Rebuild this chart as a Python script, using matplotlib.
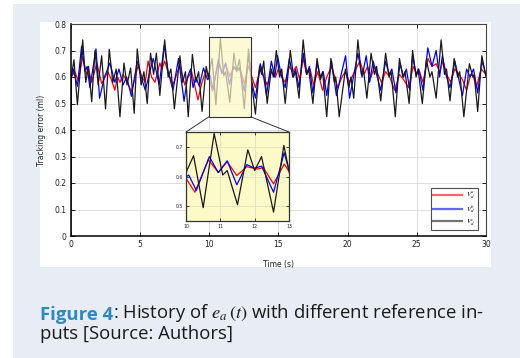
import matplotlib
matplotlib.use('Agg')
import matplotlib.pyplot as plt
from matplotlib.patches import Rectangle, ConnectionPatch
from matplotlib.text import Annotation

# tracking error e_a(t) for the three reference inputs
t_a = [0, 0.06, 0.3, 0.57, 0.88, 1.15, 1.3, 1.53, 1.9, 2.25, 2.7, 2.95, 3.2, 3.4, 3.57, 3.8, 4.1, 4.4,
       4.9, 5.15, 5.4, 5.6, 5.85, 6.1, 6.45, 6.6, 6.8, 7.1, 7.4, 7.9, 8.25, 8.5, 8.75, 9.2, 9.5, 9.8,
       10.0, 10.26, 10.65, 10.94, 11.2, 11.48, 11.77, 12.08, 12.25, 12.55, 12.86, 13.1, 13.35, 13.7,
       13.95, 14.2, 14.5, 14.8, 15.0, 15.25, 15.5, 15.8, 16.05, 16.3, 16.55, 16.8, 17.05, 17.3, 17.55,
       17.85, 18.2, 18.5, 18.85, 19.3, 19.6, 19.85, 20.15, 20.5, 20.9, 21.2, 21.45, 21.7, 21.95, 22.2,
       22.45, 22.75, 23.05, 23.4, 23.75, 24.05, 24.4, 24.75, 25.0, 25.2, 25.45, 25.8, 26.1, 26.4,
       26.65, 26.9, 27.15, 27.45, 27.75, 28.05, 28.3, 28.6, 28.9, 29.1, 29.3, 29.65, 30.0]
e_a = [0, 0.60, 0.62, 0.585, 0.676, 0.61, 0.63, 0.58, 0.653, 0.575, 0.62, 0.59, 0.55, 0.60, 0.58, 0.61,
       0.58, 0.545, 0.647, 0.60, 0.58, 0.66, 0.60, 0.58, 0.653, 0.63, 0.66, 0.61, 0.57, 0.645, 0.57,
       0.60, 0.62, 0.514, 0.58, 0.628, 0.594, 0.547, 0.656, 0.614, 0.65, 0.603, 0.633, 0.625, 0.63,
       0.575, 0.642, 0.60, 0.56, 0.63, 0.60, 0.57, 0.62, 0.60, 0.63, 0.60, 0.58, 0.64, 0.62, 0.64,
       0.59, 0.67, 0.61, 0.63, 0.57, 0.62, 0.55, 0.60, 0.64, 0.56, 0.60, 0.62, 0.58, 0.62, 0.66, 0.61,
       0.64, 0.60, 0.64, 0.61, 0.58, 0.62, 0.60, 0.55, 0.61, 0.59, 0.56, 0.64, 0.61, 0.62, 0.58, 0.67,
       0.64, 0.65, 0.62, 0.66, 0.61, 0.58, 0.63, 0.61, 0.59, 0.55, 0.61, 0.60, 0.56, 0.63, 0.61]

t_b = [0, 0.06, 0.2, 0.5, 0.8, 1.05, 1.2, 1.4, 1.84, 2.1, 2.45, 2.85, 3.2, 3.5, 3.8, 4.05, 4.4, 4.82,
       5.1, 5.4, 5.97, 6.2, 6.4, 6.77, 7.05, 7.4, 7.8, 8.2, 8.45, 8.67, 8.85, 9.05, 9.3, 9.6, 9.9,
       10.08, 10.3, 10.68, 10.94, 11.2, 11.48, 11.77, 12.0, 12.2, 12.55, 12.86, 13.1, 13.35, 13.7,
       13.95, 14.15, 14.5, 14.75, 14.95, 15.2, 15.5, 15.8, 16.05, 16.25, 16.5, 16.8, 17.05, 17.25,
       17.5, 17.8, 18.05, 18.25, 18.5, 18.85, 19.2, 19.5, 19.86, 20.15, 20.5, 20.75, 21.05, 21.35,
       21.6, 21.85, 22.1, 22.4, 22.75, 23.0, 23.2, 23.5, 23.8, 24.05, 24.25, 24.5, 24.7, 24.95, 25.15,
       25.45, 25.8, 26.1, 26.4, 26.65, 26.85, 27.1, 27.4, 27.75, 28.0, 28.3, 28.6, 28.85, 29.1, 29.4,
       29.7, 30.0]
e_b = [0, 0.60, 0.63, 0.565, 0.716, 0.62, 0.64, 0.56, 0.706, 0.52, 0.60, 0.653, 0.58, 0.63, 0.57,
       0.60, 0.527, 0.66, 0.60, 0.55, 0.67, 0.62, 0.57, 0.72, 0.62, 0.55, 0.67, 0.508, 0.60, 0.63,
       0.56, 0.60, 0.565, 0.634, 0.59, 0.605, 0.553, 0.667, 0.613, 0.653, 0.572, 0.64, 0.628, 0.635,
       0.547, 0.68, 0.58, 0.52, 0.65, 0.60, 0.53, 0.66, 0.60, 0.68, 0.61, 0.56, 0.67, 0.60, 0.63,
       0.56, 0.69, 0.61, 0.64, 0.54, 0.65, 0.60, 0.62, 0.53, 0.66, 0.53, 0.60, 0.68, 0.52, 0.62, 0.69,
       0.60, 0.68, 0.58, 0.66, 0.61, 0.55, 0.66, 0.61, 0.63, 0.54, 0.65, 0.60, 0.63, 0.55, 0.68, 0.61,
       0.63, 0.55, 0.71, 0.64, 0.70, 0.60, 0.68, 0.61, 0.56, 0.66, 0.60, 0.53, 0.63, 0.60, 0.63, 0.54,
       0.66, 0.61]

t_c = [0, 0.06, 0.25, 0.5, 0.88, 1.1, 1.3, 1.53, 1.77, 2.0, 2.25, 2.53, 2.8, 3.05, 3.3, 3.57, 3.86,
       4.08, 4.34, 4.6, 4.82, 5.1, 5.3, 5.54, 5.78, 6.0, 6.2, 6.45, 6.8, 7.05, 7.25, 7.5, 7.9, 8.1,
       8.3, 8.5, 8.8, 9.05, 9.25, 9.5, 9.8, 9.95, 10.22, 10.5, 10.82, 11.07, 11.2, 11.5, 11.8, 12.0,
       12.2, 12.55, 12.85, 13.05, 13.35, 13.65, 13.8, 13.95, 14.2, 14.5, 14.65, 14.86, 15.1, 15.25,
       15.5, 15.87, 16.1, 16.25, 16.5, 16.8, 17.05, 17.2, 17.5, 17.8, 18.05, 18.2, 18.5, 18.8, 19.05,
       19.15, 19.4, 19.85, 20.1, 20.25, 20.45, 20.75, 21.0, 21.15, 21.4, 21.7, 21.95, 22.1, 22.4,
       22.75, 23.0, 23.15, 23.45, 23.75, 24.0, 24.15, 24.45, 24.7, 24.95, 25.1, 25.4, 25.7, 25.95,
       26.1, 26.4, 26.76, 27.0, 27.15, 27.4, 27.7, 27.95, 28.1, 28.4, 28.8, 29.05, 29.15, 29.4,
       29.7, 30.0]
e_c = [0, 0.60, 0.665, 0.495, 0.74, 0.58, 0.64, 0.507, 0.70, 0.57, 0.68, 0.48, 0.705, 0.58, 0.63,
       0.45, 0.653, 0.57, 0.634, 0.463, 0.706, 0.57, 0.62, 0.50, 0.69, 0.61, 0.69, 0.53, 0.74, 0.60,
       0.63, 0.48, 0.68, 0.58, 0.62, 0.45, 0.685, 0.58, 0.62, 0.47, 0.64, 0.60, 0.67, 0.495, 0.745,
       0.605, 0.62, 0.505, 0.69, 0.62, 0.667, 0.48, 0.705, 0.59, 0.46, 0.64, 0.61, 0.66, 0.50, 0.63,
       0.60, 0.70, 0.60, 0.63, 0.50, 0.70, 0.60, 0.62, 0.52, 0.74, 0.61, 0.63, 0.50, 0.67, 0.59, 0.62,
       0.45, 0.67, 0.58, 0.60, 0.45, 0.63, 0.56, 0.60, 0.52, 0.74, 0.61, 0.63, 0.52, 0.69, 0.61, 0.64,
       0.51, 0.69, 0.60, 0.62, 0.45, 0.67, 0.60, 0.62, 0.50, 0.70, 0.60, 0.63, 0.50, 0.665, 0.60,
       0.62, 0.52, 0.74, 0.61, 0.63, 0.51, 0.67, 0.60, 0.62, 0.45, 0.65, 0.60, 0.61, 0.47, 0.68, 0.60]

labels = ['$V_d^a$', '$V_d^b$', '$V_d^c$']
colors = ['#ff0000', '#0000ff', '#1a1a1a']
xticks = [0, 5, 10, 15, 20, 25, 30]
yticks = [0, 0.1, 0.2, 0.3, 0.4, 0.5, 0.6, 0.7, 0.8]
ytick_labels = ['0', '0.1', '0.2', '0.3', '0.4', '0.5', '0.6', '0.7', '0.8']
zoom_x = (10, 13)
zoom_y = (0.45, 0.75)

W, H = 520, 358
plt.rcParams['mathtext.fontset'] = 'stix'
fig = plt.figure(figsize=(W / 100, H / 100), dpi=100, facecolor='white')

# page panel + white picture area
fig.patches.append(Rectangle((13 / W, 0), 1, 1 - 4 / H, transform=fig.transFigure,
                             facecolor='#e8ecf5', edgecolor='none', zorder=-2))
fig.patches.append(Rectangle((40 / W, 1 - 267 / H), 451 / W, 245 / H, transform=fig.transFigure,
                             facecolor='white', edgecolor='none', zorder=-1))

ax = fig.add_axes([70.5 / W, 1 - 236 / H, 415.5 / W, 212 / H])
series = [(t_a, e_a), (t_b, e_b), (t_c, e_c)]
for (t, e), c, lab in zip(series, colors, labels):
    ax.plot(t, e, color=c, lw=0.9, label=lab)
ax.set_xlim(0, 30)
ax.set_ylim(0, 0.8)
ax.set_xticks(xticks)
ax.set_yticks(yticks)
ax.set_yticklabels(ytick_labels)
ax.grid(True, color='#d9d9d9', lw=0.6)
ax.set_axisbelow(True)
ax.tick_params(direction='in', length=3, width=0.7, labelsize=5.5, colors='#222222',
               top=True, right=True, pad=3)
for s in ['left', 'bottom']:
    ax.spines[s].set_linewidth(1.1)
    ax.spines[s].set_color('black')
for s in ['top', 'right']:
    ax.spines[s].set_linewidth(0.8)
    ax.spines[s].set_color('#444444')
ax.set_ylabel('Tracking error (ml)', fontsize=5.5, color='#222222')
ax.set_xlabel('Time (s)', fontsize=5.5, color='#222222')
ax.yaxis.set_label_coords(-0.06, 0.5)
ax.xaxis.set_label_coords(0.5, -0.115)

# zoom box on the main plot
ax.add_patch(Rectangle((zoom_x[0], zoom_y[0]), zoom_x[1] - zoom_x[0], zoom_y[1] - zoom_y[0],
                       facecolor='#fbf8c4', alpha=0.7, edgecolor='none', zorder=5))
ax.add_patch(Rectangle((zoom_x[0], zoom_y[0]), zoom_x[1] - zoom_x[0], zoom_y[1] - zoom_y[0],
                       facecolor='none', edgecolor='#333333', lw=0.8, zorder=6))

leg = ax.legend(loc='lower right', bbox_to_anchor=(0.981, 0.028), borderaxespad=0,
                fontsize=5, handlelength=4.2, frameon=True, fancybox=False, labelspacing=0.3,
                borderpad=0.35, handletextpad=0.6)
leg.get_frame().set_edgecolor('#222222')
leg.get_frame().set_linewidth(0.8)
for h in leg.get_lines():
    h.set_alpha(0.6)
    h.set_linewidth(1.6)

# inset
axi = fig.add_axes([186 / W, 1 - 221 / H, 103 / W, 89 / H])
axi.set_facecolor('#fcfac6')
for (t, e), c in zip(series, colors):
    axi.plot(t, e, color=c, lw=0.9)
axi.set_xlim(*zoom_x)
axi.set_ylim(*zoom_y)
axi.set_xticks([10, 11, 12, 13])
axi.set_yticks([0.5, 0.6, 0.7])
axi.grid(True, color='#d9d9c0', lw=0.5)
axi.tick_params(direction='in', length=2, width=0.6, labelsize=3.3, colors='#222222',
                top=True, right=True, pad=2)
for s in axi.spines.values():
    s.set_color('#333333')
    s.set_linewidth(0.9)

for xa, xb in [(zoom_x[0], 0), (zoom_x[1], 1)]:
    con = ConnectionPatch(xyA=(xa, zoom_y[0]), coordsA=ax.transData,
                          xyB=(xb, 1), coordsB=axi.transAxes, color='#333333', lw=0.7)
    fig.add_artist(con)

# caption
cap1 = fig.text(40 / W, 1 - 320 / H, 'Figure 4', fontsize=13.3, fontweight='bold',
                color='#2b8ac6', family='Open Sans', va='baseline')
cap_rest = Annotation(r': History of $e_a\,(t)$ with different reference in-', xy=(1, 0),
                      xycoords=cap1, va='bottom', fontsize=13.3, family='Open Sans',
                      color='#1a1a1a', annotation_clip=False)
fig.add_artist(cap_rest)
fig.text(40 / W, 1 - 339 / H, 'puts [Source: Authors]', fontsize=13.3, family='Open Sans',
         color='#1a1a1a', va='baseline')

fig.savefig('out.png', dpi=100, facecolor=fig.get_facecolor())
